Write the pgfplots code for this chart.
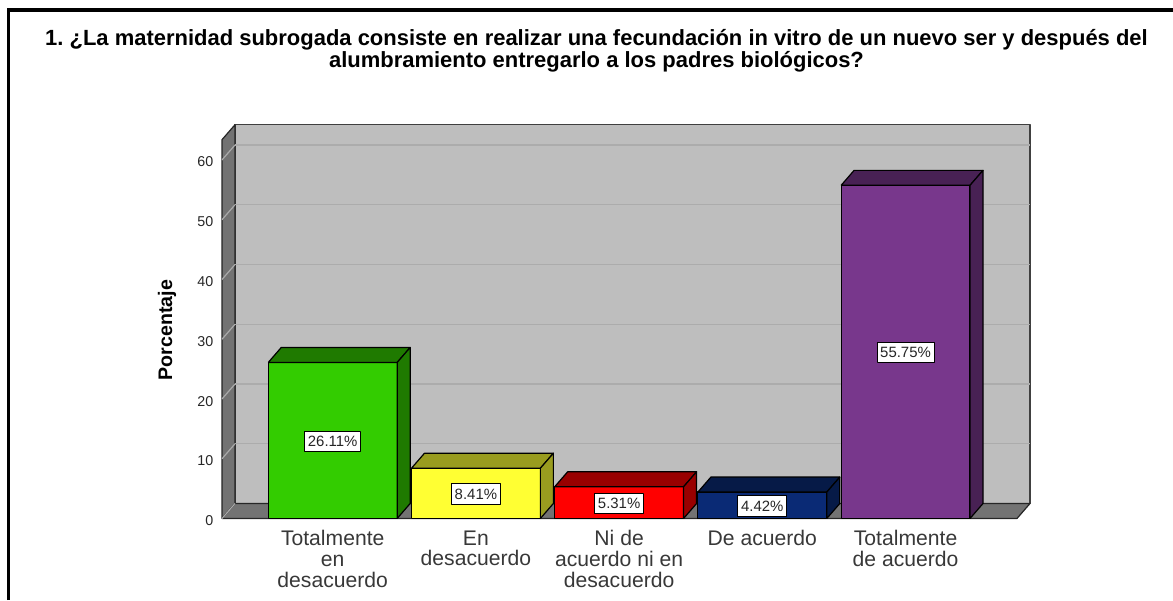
\documentclass[border=0pt]{standalone}
\usepackage{pgfplots}
\pgfplotsset{compat=1.18}
\usepackage{fontspec}
\setmainfont{Liberation Sans}
\definecolor{wall}{RGB}{190,190,190}
\definecolor{floorc}{RGB}{115,115,115}
\definecolor{gridb}{RGB}{172,172,172}
\definecolor{grids}{RGB}{170,170,170}
\definecolor{cA}{RGB}{51,204,0}\definecolor{cAd}{RGB}{31,122,0}
\definecolor{cB}{RGB}{255,255,51}\definecolor{cBd}{RGB}{153,156,31}
\definecolor{cC}{RGB}{255,0,0}\definecolor{cCd}{RGB}{153,0,0}
\definecolor{cD}{RGB}{10,42,117}\definecolor{cDd}{RGB}{6,26,71}
\definecolor{cE}{RGB}{120,55,140}\definecolor{cEd}{RGB}{72,33,84}
\begin{document}
\frenchspacing
\begin{tikzpicture}
\useasboundingbox (0pt,0pt) rectangle (879.75pt,450pt);
\draw[line width=2.8pt,black] (6.3pt,0pt) -- (6.3pt,442.6pt) -- (879.75pt,442.6pt);
\begin{axis}[
  at={(166.5pt,61.125pt)},anchor=south west,
  scale only axis,width=606pt,height=295.35pt,
  xmin=-0.773,xmax=4.869,ymin=0,ymax=65.9,
  clip=false,axis line style={draw=none},tick style={draw=none},
  xtick={0,1,2,3,4},ytick={0,10,20,30,40,50,60},
  xticklabels={{Totalmente\\en\\desacuerdo},{En\\desacuerdo},{Ni de\\acuerdo ni en\\desacuerdo},{De acuerdo},{Totalmente\\de acuerdo}},
  xticklabel style={align=center,font=\fontsize{15.85}{15.4}\selectfont,text=black!78,yshift=-5.6pt},
  yticklabel style={font=\fontsize{10.7}{11}\selectfont,text=black!85,xshift=-3pt,yshift=-1.6pt},
  /pgf/number format/assume math mode=true,
  ylabel={\textbf{Porcentaje}},
  ylabel style={at={(axis description cs:-0.0681,0.4787)},anchor=center,font=\fontsize{14.7}{16}\selectfont},
  title={\textbf{1. ¿La maternidad subrogada consiste en realizar una fecundación in vitro de un nuevo ser y después del}\\\textbf{alumbramiento entregarlo a los padres biológicos?}},
  title style={at={(axis description cs:0.4635,1.1935)},anchor=center,align=center,yshift=-7.9pt,font=\fontsize{16.48}{15.4}\selectfont},
  every axis plot/.append style={line join=round,line width=0.9pt},
  no markers,
]
% back wall
\addplot[fill=wall,draw=black!75] coordinates {(-0.682,2.51)(4.869,2.51)(4.869,65.9)(-0.682,65.9)(-0.682,2.51)};
% side wall and floor
\addplot[fill=floorc,draw=black!85] coordinates {(-0.773,0)(-0.682,2.51)(-0.682,65.9)(-0.773,63.39)(-0.773,0)};
\addplot[fill=floorc,draw=black!85] coordinates {(-0.773,0)(4.778,0)(4.869,2.51)(-0.682,2.51)(-0.773,0)};
% gridlines on the wall
\addplot[draw=gridb] coordinates {(-0.682,12.51)(4.869,12.51)};
\addplot[draw=gridb] coordinates {(-0.682,22.51)(4.869,22.51)};
\addplot[draw=gridb] coordinates {(-0.682,32.51)(4.869,32.51)};
\addplot[draw=gridb] coordinates {(-0.682,42.51)(4.869,42.51)};
\addplot[draw=gridb] coordinates {(-0.682,52.51)(4.869,52.51)};
\addplot[draw=gridb] coordinates {(-0.682,62.51)(4.869,62.51)};
\addplot[draw=grids] coordinates {(-0.773,0)(-0.682,2.51)};
\addplot[draw=grids] coordinates {(-0.773,10)(-0.682,12.51)};
\addplot[draw=grids] coordinates {(-0.773,20)(-0.682,22.51)};
\addplot[draw=grids] coordinates {(-0.773,30)(-0.682,32.51)};
\addplot[draw=grids] coordinates {(-0.773,40)(-0.682,42.51)};
\addplot[draw=grids] coordinates {(-0.773,50)(-0.682,52.51)};
\addplot[draw=grids] coordinates {(-0.773,60)(-0.682,62.51)};
% bars
\addplot[ybar,bar width=0.9,bar shift=0pt,fill=cA,draw=black] coordinates {(0,26.11)};
\addplot[fill=cAd,draw=black] coordinates {(-0.45,26.11)(0.45,26.11)(0.5408,28.62)(-0.3592,28.62)(-0.45,26.11)};
\addplot[fill=cAd,draw=black] coordinates {(0.45,0)(0.5408,2.51)(0.5408,28.62)(0.45,26.11)(0.45,0)};
\addplot[ybar,bar width=0.9,bar shift=0pt,fill=cB,draw=black] coordinates {(1,8.41)};
\addplot[fill=cBd,draw=black] coordinates {(0.55,8.41)(1.45,8.41)(1.5408,10.92)(0.6408,10.92)(0.55,8.41)};
\addplot[fill=cBd,draw=black] coordinates {(1.45,0)(1.5408,2.51)(1.5408,10.92)(1.45,8.41)(1.45,0)};
\addplot[ybar,bar width=0.9,bar shift=0pt,fill=cC,draw=black] coordinates {(2,5.31)};
\addplot[fill=cCd,draw=black] coordinates {(1.55,5.31)(2.45,5.31)(2.5408,7.82)(1.6408,7.82)(1.55,5.31)};
\addplot[fill=cCd,draw=black] coordinates {(2.45,0)(2.5408,2.51)(2.5408,7.82)(2.45,5.31)(2.45,0)};
\addplot[ybar,bar width=0.9,bar shift=0pt,fill=cD,draw=black] coordinates {(3,4.42)};
\addplot[fill=cDd,draw=black] coordinates {(2.55,4.42)(3.45,4.42)(3.5408,6.93)(2.6408,6.93)(2.55,4.42)};
\addplot[fill=cDd,draw=black] coordinates {(3.45,0)(3.5408,2.51)(3.5408,6.93)(3.45,4.42)(3.45,0)};
\addplot[ybar,bar width=0.9,bar shift=0pt,fill=cE,draw=black] coordinates {(4,55.75)};
\addplot[fill=cEd,draw=black] coordinates {(3.55,55.75)(4.45,55.75)(4.5408,58.26)(3.6408,58.26)(3.55,55.75)};
\addplot[fill=cEd,draw=black] coordinates {(4.45,0)(4.5408,2.51)(4.5408,58.26)(4.45,55.75)(4.45,0)};
% value labels
\addplot[only marks,mark=none,point meta=explicit symbolic,nodes near coords,nodes near coords align={center},
  every node near coord/.append style={fill=white,draw=black,line width=0.75pt,font=\fontsize{11.2}{12}\selectfont,text=black!85,inner xsep=2.4pt,inner ysep=0pt,text height=11.6pt,text depth=3.6pt,anchor=center,yshift=-0.5pt}]
  coordinates {(0,13.055)[26.11\%] (1,4.205)[8.41\%] (2,2.655)[5.31\%] (3,2.21)[4.42\%] (4,27.875)[55.75\%]};
\end{axis}
\end{tikzpicture}
\end{document}
